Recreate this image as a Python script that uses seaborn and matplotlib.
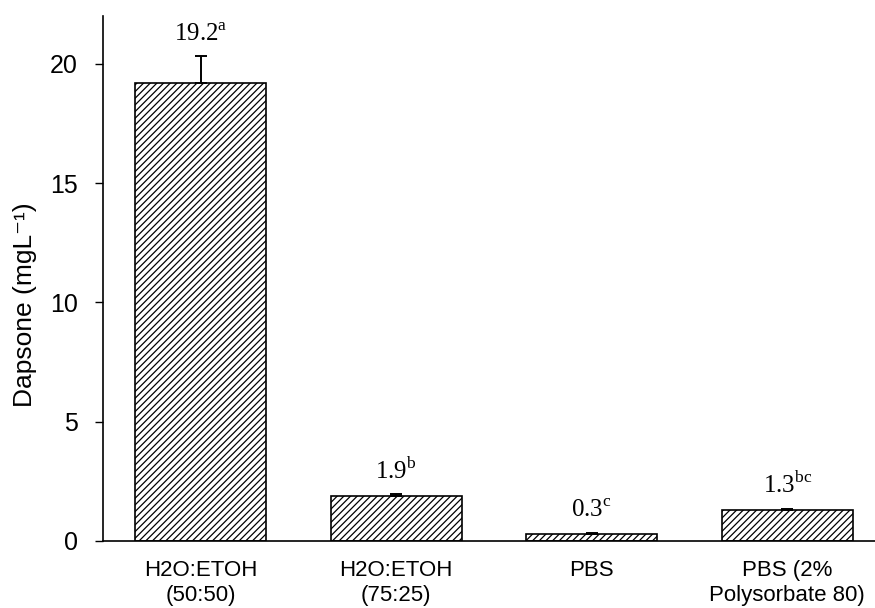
import matplotlib
matplotlib.use("Agg")
import matplotlib.pyplot as plt
import seaborn as sns
import pandas as pd

# Dapsone solubility in different media
categories = ["H2O:ETOH\n(50:50)", "H2O:ETOH\n(75:25)", "PBS", "PBS (2%\nPolysorbate 80)"]
means = [19.2, 1.9, 0.3, 1.3]
errors = [1.13, 0.05, 0.05, 0.06]
letters = ["a", "b", "c", "bc"]
yticks = [0, 5, 10, 15, 20]

sns.set_theme(style="ticks")
plt.rcParams["font.family"] = ["Liberation Sans", "DejaVu Sans"]
plt.rcParams["text.color"] = "black"
plt.rcParams["axes.labelcolor"] = "black"
plt.rcParams["xtick.color"] = "black"
plt.rcParams["ytick.color"] = "black"
plt.rcParams["mathtext.fontset"] = "custom"
plt.rcParams["mathtext.rm"] = "Liberation Serif"
plt.rcParams["mathtext.sf"] = "Liberation Sans"
plt.rcParams["hatch.linewidth"] = 0.9
plt.rcParams["hatch.color"] = "black"

fig = plt.figure(figsize=(8.75, 6.08), dpi=100)
ax = fig.add_axes([0.1177, 0.1102, 0.8937, 0.8635])

df = pd.DataFrame({"medium": categories, "dapsone": means})
sns.barplot(data=df, x="medium", y="dapsone", color="white", saturation=1,
            edgecolor="black", linewidth=1.2, width=0.67, hatch="/////",
            errorbar=None, ax=ax)

# upper-only error bars
xs = list(range(len(categories)))
ax.errorbar(xs, means, yerr=[[0] * len(errors), errors], fmt="none",
            ecolor="black", elinewidth=1.4, capsize=4.5, capthick=1.4, zorder=3)

for x, m, e, l in zip(xs, means, errors, letters):
    ax.annotate(f"{m:.1f}" + r"$^{\mathrm{" + l + r"}}$", xy=(x, m + e),
                xytext=(0, 11), textcoords="offset points", ha="center",
                va="baseline", fontsize=18, family="Liberation Serif")

ax.set_xlim(-0.5, 3.5)
ax.set_ylim(0, 22)
ax.set_yticks(yticks)
ax.set_yticklabels([str(t) for t in yticks], fontsize=18)
ax.tick_params(axis="y", direction="out", length=6, width=1, pad=12)
ax.tick_params(axis="x", length=0, pad=14, labelsize=16)
ax.set_xlabel("")
ax.set_ylabel("Dapsone (mgL⁻¹)", fontsize=19)
ax.yaxis.set_label_coords(-0.084, 0.45)

sns.despine(ax=ax)
for s in ("left", "bottom"):
    ax.spines[s].set_linewidth(1.2)
    ax.spines[s].set_color("black")

fig.savefig("out.png", dpi=100)
